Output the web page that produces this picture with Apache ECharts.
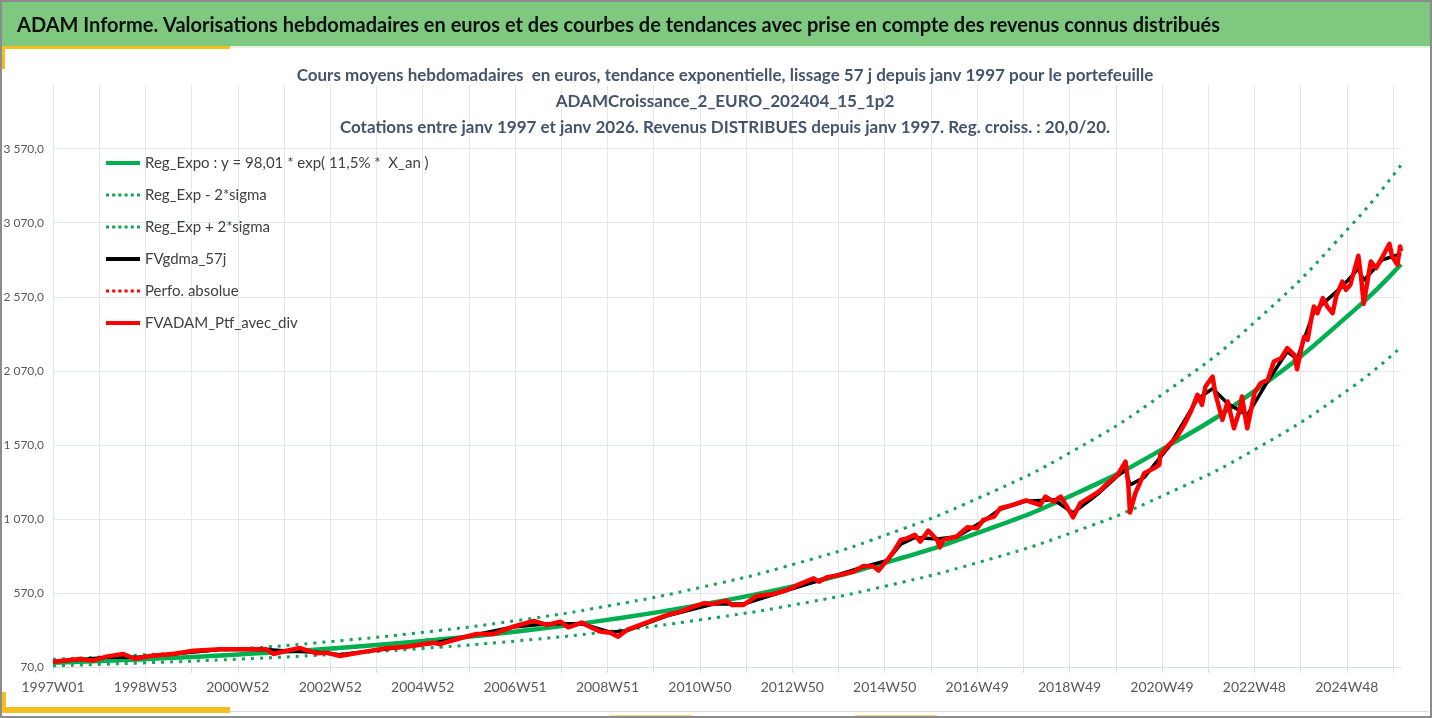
<!DOCTYPE html>
<html>
<head>
<meta charset="utf-8">
<script src="https://cdn.jsdelivr.net/npm/echarts@6/dist/echarts.min.js"></script>
<style>
  html, body { margin: 0; padding: 0; background: #fff; }
  #chart { width: 1432px; height: 718px; }
</style>
</head>
<body>
<div id="chart"></div>
<script>
/* valeurs (semaine = index depuis 1997W01) */
var xTickLabels = ['1997W01', '1998W53', '2000W52', '2002W52', '2004W52', '2006W51', '2008W51',
  '2010W50', '2012W50', '2014W50', '2016W49', '2018W49', '2020W49', '2022W48', '2024W48'];

var trendWeeks = [0, 104, 209, 313, 417, 522, 626, 730, 835, 939, 1043, 1148, 1252, 1357, 1461, 1517];
var regExpo = [98, 123, 155, 195, 246, 310, 390, 491, 618, 778, 980, 1233, 1553, 1955, 2461, 2790];
var regLow = [78, 98, 123, 155, 196, 246, 310, 390, 491, 619, 779, 980, 1235, 1554, 1956, 2230];
var regHigh = [122, 153, 192, 242, 305, 384, 484, 609, 766, 965, 1215, 1529, 1926, 2424, 3052, 3460];

var ptfWeeks = [0, 30, 45, 60, 79, 92, 109, 135, 158, 188, 210, 240, 248, 263, 278, 297, 308, 323, 345,
  375, 398, 428, 435, 458, 477, 496, 518, 541, 556, 571, 580, 595, 604, 616, 627, 636, 646, 661, 676,
  691, 706, 721, 732, 743, 758, 764, 777, 792, 811, 826, 841, 856, 862, 871, 886, 901, 912, 924, 929,
  939, 946, 954, 961, 970, 976, 985, 995, 998, 1002, 1017, 1029, 1040, 1047, 1059, 1066, 1080, 1095,
  1111, 1117, 1126, 1134, 1141, 1148, 1156, 1168, 1177, 1186, 1198, 1207, 1210, 1212, 1218, 1228,
  1239, 1245, 1246, 1256, 1265, 1273, 1280, 1288, 1293, 1297, 1305, 1308, 1316, 1322, 1329, 1335,
  1338, 1344, 1352, 1359, 1367, 1374, 1382, 1389, 1397, 1400, 1404, 1408, 1412, 1416, 1419, 1423,
  1429, 1434, 1440, 1444, 1451, 1455, 1460, 1469, 1472, 1475, 1483, 1489, 1496, 1504, 1507, 1513,
  1516, 1517];
var ptfValues = [106, 124, 113, 140, 158, 126, 144, 158, 180, 190, 190, 190, 158, 180, 198, 162, 167, 144, 167,
  196, 207, 234, 225, 264, 293, 293, 342, 381, 354, 376, 338, 370, 342, 309, 302, 275, 320, 354, 388,
  421, 444, 478, 500, 496, 518, 489, 489, 550, 563, 590, 631, 669, 646, 676, 692, 714, 752, 748, 721,
  793, 849, 928, 939, 962, 917, 991, 928, 878, 928, 951, 1014, 1007, 1063, 1086, 1142, 1165, 1195,
  1164, 1221, 1187, 1221, 1153, 1081, 1176, 1221, 1255, 1306, 1367, 1457, 1311, 1113, 1243, 1378,
  1412, 1435, 1502, 1570, 1626, 1705, 1788, 1908, 1840, 1964, 2031, 1919, 1739, 1863, 1682, 1795,
  1896, 1682, 1919, 1986, 2009, 2133, 2155, 2223, 2178, 2081, 2200, 2300, 2280, 2420, 2504, 2459,
  2561, 2504, 2459, 2572, 2673, 2617, 2651, 2847, 2707, 2522, 2808, 2763, 2838, 2928, 2842, 2786,
  2910, 2876];

var maWeeks = [0, 60, 92, 135, 188, 240, 263, 297, 323, 375, 428, 477, 518, 556, 595, 627, 646, 691, 743,
  777, 826, 871, 912, 939, 954, 970, 995, 1017, 1047, 1066, 1095, 1126, 1148, 1177, 1198, 1207, 1212,
  1228, 1256, 1288, 1305, 1322, 1344, 1367, 1389, 1400, 1419, 1451, 1469, 1475, 1496, 1517];
var maValues = [106, 135, 135, 158, 188, 188, 178, 170, 152, 192, 230, 290, 340, 362, 362, 305, 315, 415, 495,
  495, 588, 670, 745, 790, 900, 945, 935, 950, 1055, 1135, 1190, 1200, 1110, 1245, 1360, 1400, 1300,
  1350, 1560, 1880, 1950, 1850, 1770, 2000, 2200, 2150, 2470, 2640, 2760, 2680, 2820, 2860];

function zip(xs, ys) {
  var out = [];
  for (var i = 0; i < xs.length; i++) out.push([xs[i], ys[i]]);
  return out;
}

function frNumber(v) {
  var s = Math.round(v).toString();
  s = s.replace(/\B(?=(\d{3})+(?!\d))/g, ' ');
  return s + ',0';
}

var FONT = 'Lato, "Liberation Sans", sans-serif';
var GREEN = '#00B050';
var GREEN_DOT = '#15A35A';
// icônes de légende : trait plein / pointillé
var ICON_SOLID = 'path://M0,0h34v4h-34z';
var ICON_DOTS = 'path://M0,0h3v3h-3zM6,0h3v3h-3zM12,0h3v3h-3zM18,0h3v3h-3zM24,0h3v3h-3zM30,0h3v3h-3z';

var chart = echarts.init(document.getElementById('chart'));

var option = {
  animation: false,
  backgroundColor: '#ffffff',
  textStyle: { fontFamily: FONT },
  graphic: [
    { type: 'rect', shape: { x: 0, y: 0, width: 1432, height: 46 }, style: { fill: '#7EC87F' }, z: 0 },
    { type: 'rect', shape: { x: 230, y: 46, width: 1200, height: 2 }, style: { fill: '#E4F1E2' } },
    { type: 'rect', shape: { x: 0, y: 46, width: 230, height: 3 }, style: { fill: '#F4BE1C' } },
    { type: 'rect', shape: { x: 0, y: 46, width: 5, height: 23 }, style: { fill: '#F4BE1C' } },
    { type: 'rect', shape: { x: 0, y: 707, width: 230, height: 6 }, style: { fill: '#F4BE1C' } },
    { type: 'rect', shape: { x: 0, y: 692, width: 6, height: 21 }, style: { fill: '#F4BE1C' } },
    { type: 'rect', shape: { x: 230, y: 711, width: 1198, height: 1 }, style: { fill: '#D9D9D9' } },
    { type: 'rect', shape: { x: 609, y: 715, width: 83, height: 2 }, style: { fill: '#F6E27A' } },
    { type: 'rect', shape: { x: 855, y: 715, width: 82, height: 2 }, style: { fill: '#F6E27A' } },
    { type: 'rect', shape: { x: 1, y: 1, width: 1430, height: 716 },
      style: { fill: 'none', stroke: '#8C8C8C', lineWidth: 2 }, z: 100 }
  ],
  title: [
    {
      text: 'ADAM Informe. Valorisations hebdomadaires en euros et des courbes de tendances avec prise en compte des revenus connus distribués',
      left: 12, top: 11,
      textStyle: { fontFamily: FONT, fontSize: 20, fontWeight: 'bold', color: '#111111' }
    },
    {
      text: 'Cours moyens hebdomadaires  en euros, tendance exponentielle, lissage 57 j depuis janv 1997 pour le portefeuille\n' +
        'ADAMCroissance_2_EURO_202404_15_1p2\n' +
        'Cotations entre janv 1997 et janv 2026. Revenus DISTRIBUES depuis janv 1997. Reg. croiss. : 20,0/20.',
      left: 720, top: 58, textAlign: 'center',
      textStyle: { fontFamily: FONT, fontSize: 17, fontWeight: 'bold', color: '#44546A', lineHeight: 26 }
    }
  ],
  legend: {
    orient: 'vertical',
    left: 106, top: 154, padding: 0,
    itemWidth: 34, itemHeight: 4, itemGap: 14,
    symbolKeepAspect: true,
    textStyle: { fontFamily: FONT, fontSize: 15, color: '#404040', lineHeight: 18 },
    data: [
      { name: 'Reg_Expo : y = 98,01 * exp( 11,5% *  X_an )', icon: ICON_SOLID },
      { name: 'Reg_Exp - 2*sigma', icon: ICON_DOTS },
      { name: 'Reg_Exp + 2*sigma', icon: ICON_DOTS },
      { name: 'FVgdma_57j', icon: ICON_SOLID },
      { name: 'Perfo. absolue', icon: ICON_DOTS },
      { name: 'FVADAM_Ptf_avec_div', icon: ICON_SOLID }
    ]
  },
  grid: { left: 53, right: 31, top: 85, bottom: 51, containLabel: false },
  xAxis: {
    type: 'value',
    min: 0, max: 1517, interval: 52,
    axisLine: { show: true, lineStyle: { color: '#D9DEE6' } },
    axisTick: { show: true, length: 6, lineStyle: { color: '#D9DEE6' } },
    splitLine: { show: true, showMaxLine: false, lineStyle: { color: '#E3E7EE', width: 1 } },
    axisLabel: {
      margin: 13, fontSize: 14, color: '#595959', fontFamily: FONT,
      showMaxLabel: false,
      formatter: function (v) {
        if (v % 104 === 0) return xTickLabels[v / 104] || '';
        return '';
      }
    }
  },
  yAxis: {
    type: 'value',
    min: 70, max: 4000, interval: 500,
    axisLine: { show: false },
    axisTick: { show: false },
    splitLine: { show: true, showMaxLine: false, lineStyle: { color: '#E3E7EE', width: 1 } },
    axisLabel: {
      margin: 9, fontSize: 12, color: '#595959', fontFamily: FONT,
      showMaxLabel: false,
      formatter: function (v) { return frNumber(v); }
    }
  },
  series: [
    {
      name: 'Reg_Expo : y = 98,01 * exp( 11,5% *  X_an )',
      type: 'line', smooth: true, symbol: 'none', z: 2,
      lineStyle: { color: GREEN, width: 4.5 },
      itemStyle: { color: GREEN },
      data: zip(trendWeeks, regExpo)
    },
    {
      name: 'Reg_Exp - 2*sigma',
      type: 'line', smooth: true, symbol: 'none', z: 2,
      lineStyle: { color: GREEN_DOT, width: 3, type: [3, 6] },
      itemStyle: { color: GREEN_DOT },
      data: zip(trendWeeks, regLow)
    },
    {
      name: 'Reg_Exp + 2*sigma',
      type: 'line', smooth: true, symbol: 'none', z: 2,
      lineStyle: { color: GREEN_DOT, width: 3, type: [3, 6] },
      itemStyle: { color: GREEN_DOT },
      data: zip(trendWeeks, regHigh)
    },
    {
      name: 'FVgdma_57j',
      type: 'line', symbol: 'none', z: 3,
      lineStyle: { color: '#000000', width: 3.5 },
      itemStyle: { color: '#000000' },
      data: zip(maWeeks, maValues)
    },
    {
      name: 'Perfo. absolue',
      type: 'line', symbol: 'none', z: 3,
      lineStyle: { color: '#FF0000', width: 3, type: [3, 6] },
      itemStyle: { color: '#FF0000' },
      data: []
    },
    {
      name: 'FVADAM_Ptf_avec_div',
      type: 'line', symbol: 'none', z: 4,
      lineStyle: { color: '#FF0000', width: 4.5, join: 'round' },
      itemStyle: { color: '#FF0000' },
      data: zip(ptfWeeks, ptfValues)
    }
  ]
};

chart.setOption(option);
</script>
</body>
</html>
